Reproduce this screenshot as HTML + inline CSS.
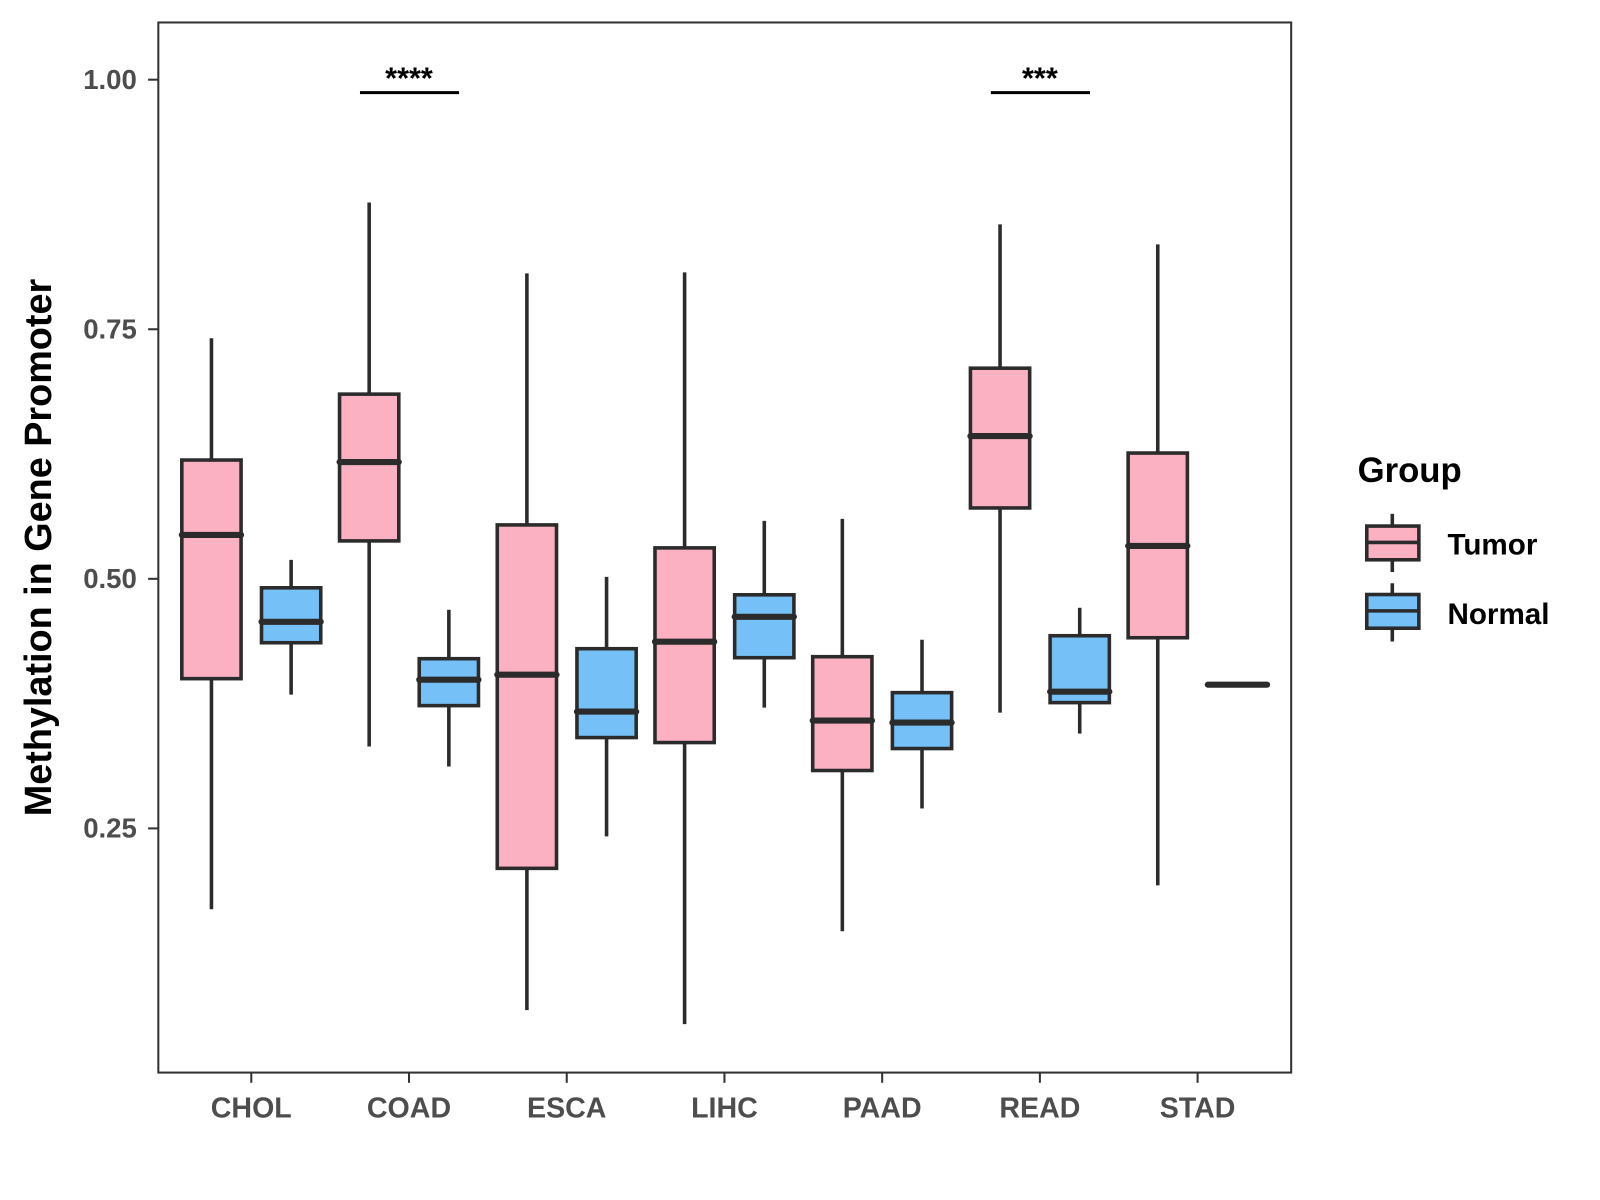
<!DOCTYPE html>
<html><head><meta charset="utf-8"><style>
body{margin:0;background:#fff}
svg{display:block;font-family:"Liberation Sans",Arial,sans-serif}
</style></head><body>
<svg id="chart" width="1600" height="1200" viewBox="0 0 1600 1200" xmlns="http://www.w3.org/2000/svg">
<rect x="0" y="0" width="1600" height="1200" fill="#fff"/>
<g transform="scale(1.0215)">
<g id="marks"></g>
<rect x="155" y="22" width="1109" height="1028" fill="none" stroke="#333" stroke-width="2"/>
<g id="axes"></g>
<text transform="translate(50,536) rotate(-90)" text-anchor="middle" font-size="37" font-weight="bold" fill="#000">Methylation in Gene Promoter</text>
<g>
<text x="1329" y="472" font-size="34" font-weight="bold">Group</text>
<g>
<line x1="1363" y1="503" x2="1363" y2="560" stroke="#2b2b2b" stroke-width="3.5"/>
<rect x="1338" y="515" width="51" height="33" fill="#FCB1C3" stroke="#2b2b2b" stroke-width="3.5"/>
<line x1="1338" y1="531" x2="1389" y2="531" stroke="#2b2b2b" stroke-width="3.5"/>
<text x="1417" y="543" font-size="29" font-weight="bold">Tumor</text></g>
<g>
<line x1="1363" y1="571" x2="1363" y2="628" stroke="#2b2b2b" stroke-width="3.5"/>
<rect x="1338" y="582" width="51" height="33" fill="#75C1F7" stroke="#2b2b2b" stroke-width="3.5"/>
<line x1="1338" y1="598" x2="1389" y2="598" stroke="#2b2b2b" stroke-width="3.5"/>
<text x="1417" y="611" font-size="29" font-weight="bold">Normal</text></g>
</g>
</g>
</svg>
<script>
const categories=["CHOL","COAD","ESCA","LIHC","PAAD","READ","STAD"];
// [min, q1, median, q3, max]
const tumorStats=[[0.169,0.400,0.544,0.619,0.741],[0.332,0.538,0.617,0.685,0.877],[0.068,0.210,0.404,0.554,0.806],[0.054,0.336,0.437,0.531,0.807],[0.147,0.308,0.358,0.422,0.560],[0.366,0.571,0.643,0.711,0.855],[0.193,0.441,0.533,0.626,0.835]];
const normalStats=[[0.384,0.436,0.457,0.491,0.519],[0.312,0.373,0.399,0.420,0.469],[0.242,0.341,0.367,0.430,0.502],[0.371,0.421,0.462,0.484,0.558],[0.270,0.330,0.356,0.386,0.439],[0.345,0.376,0.387,0.443,0.471],[0.394,0.394,0.394,0.394,0.394]];
const yTicks=[0.25,0.50,0.75,1.00];
const yTickLabels=["0.25","0.50","0.75","1.00"];
const sigCategories=["COAD","READ"];
const sigLabels=["****","***"];
const sigValue=0.987;

const NS="http://www.w3.org/2000/svg";
const y=v=>78+(1-v)*977.3;
const x=i=>246+i*154.4;
const marks=document.getElementById('marks'),axes=document.getElementById('axes');
function mk(tag,attrs,parent){const e=document.createElementNS(NS,tag);for(const k in attrs)e.setAttribute(k,attrs[k]);parent.appendChild(e);return e;}
function drawBox(s,cx,fill,name){
  const g=mk('g',{},marks);
  
  
  const w=58,st='#2b2b2b';
  mk('line',{x1:cx,x2:cx,y1:y(s[4]),y2:y(s[3]),stroke:st,'stroke-width':3.5},g);
  mk('line',{x1:cx,x2:cx,y1:y(s[1]),y2:y(s[0]),stroke:st,'stroke-width':3.5},g);
  mk('rect',{x:cx-w/2,y:y(s[3]),width:w,height:Math.max(0.1,y(s[1])-y(s[3])),fill:fill,stroke:st,'stroke-width':3.5},g);
  mk('line',{x1:cx-w/2,x2:cx+w/2,y1:y(s[2]),y2:y(s[2]),stroke:st,'stroke-width':6,'stroke-linecap':'round'},g);
}
categories.forEach((c,i)=>{
  drawBox(tumorStats[i],x(i)-39,'#FCB1C3','box-tumor-'+c.toLowerCase());
  drawBox(normalStats[i],x(i)+39,'#75C1F7','box-normal-'+c.toLowerCase());
  mk('line',{x1:x(i),x2:x(i),y1:1050,y2:1060,stroke:'#333','stroke-width':2},axes);
  const t=mk('text',{x:x(i),y:1094,'text-anchor':'middle','font-size':28,'font-weight':'bold',fill:'#4d4d4d'},axes);
  
  
  t.textContent=c;
});
yTicks.forEach((v,i)=>{
  mk('line',{x1:145,x2:155,y1:y(v),y2:y(v),stroke:'#333','stroke-width':2},axes);
  const t=mk('text',{x:134,y:y(v)+9,'text-anchor':'end','font-size':27,'font-weight':'bold',fill:'#4d4d4d'},axes);
  
  
  t.textContent=yTickLabels[i];
});
sigCategories.forEach((c,k)=>{
  const i=categories.indexOf(c);
  const g=mk('g',{},marks);
  
  
  mk('line',{x1:x(i)-48,x2:x(i)+49,y1:y(sigValue),y2:y(sigValue),stroke:'#000','stroke-width':3},g);
  const t=mk('text',{x:x(i),y:y(sigValue)-4,'text-anchor':'middle','font-size':30,'font-weight':'bold',fill:'#000'},g);
  t.textContent=sigLabels[k];
});
</script>
</body></html>
